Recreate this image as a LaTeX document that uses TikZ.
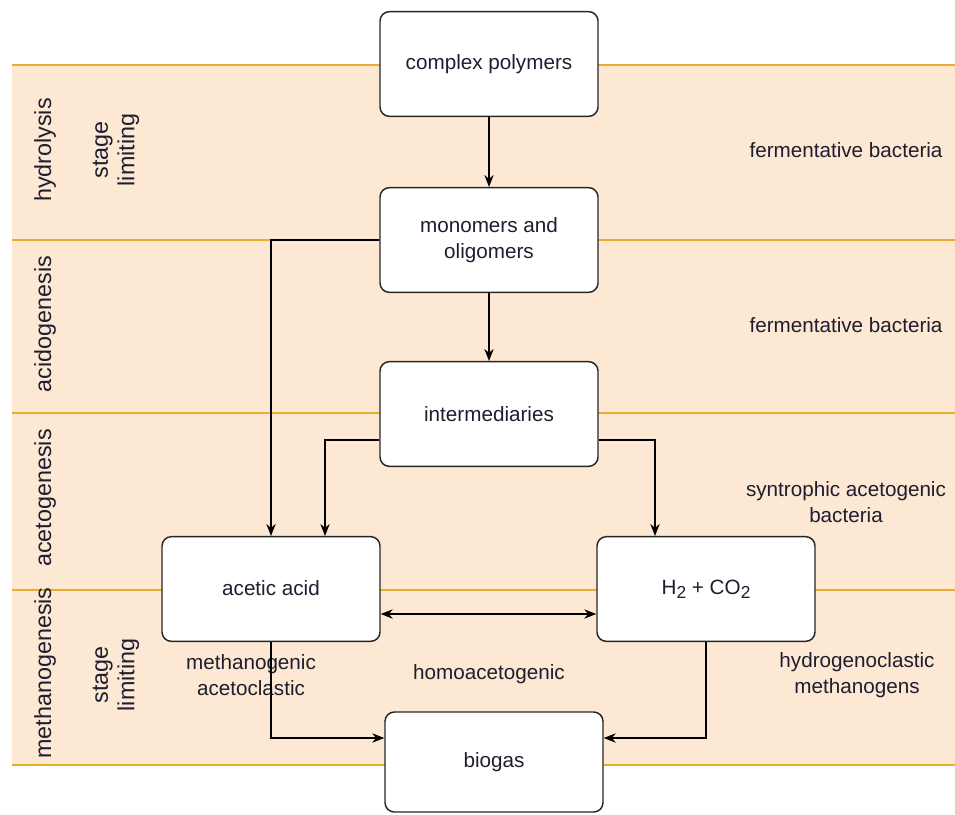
\documentclass[tikz,border=0pt]{standalone}
\usepackage{fontspec}
\setmainfont{Liberation Sans}
\usepackage{xcolor}
\usetikzlibrary{arrows.meta, positioning}
\definecolor{bandfill}{HTML}{FDE8D3}
\definecolor{bandline}{HTML}{E8AE2C}
\definecolor{textdark}{HTML}{1E1E30}
\newcommand{\lowtwo}{\raisebox{-0.35ex}{\fontsize{13}{13}\selectfont 2}}

\begin{document}
\begin{tikzpicture}[
      x=0.75pt, y=-0.75pt,
      mybox/.style={
         rectangle,
         rounded corners=7pt,
         draw=black!85,
         line width=1.1pt,
         fill=white,
         minimum width=163.5pt,
         minimum height=78.5pt,
         align=center,
         text=textdark,
         font=\fontsize{15.5}{19.5}\selectfont},
      mylabel/.style={
         align=center,
         text=textdark,
         font=\fontsize{15.5}{19.5}\selectfont},
      mystage/.style={
         rotate=90,
         align=center,
         text=textdark,
         font=\fontsize{17.5}{20}\selectfont},
      myarrow/.style={-{Stealth[length=9pt,width=7pt]}, line width=0.9pt},
      mydarrow/.style={{Stealth[length=9pt,width=7pt]}-{Stealth[length=9pt,width=7pt]}, line width=0.9pt}
      ]
      \useasboundingbox (0,0) rectangle (955,814);
      % stage bands
      \fill[bandfill] (12,65) rectangle (955,765);
      \foreach \y in {65,240,413,590,765}
        \draw[bandline, line width=1.5pt] (12,\y) -- (955,\y);

      \node[mystage] at (45,150) (hyd) {hydrolysis};
      \node[mystage] at (116,150) (limA) {stage\\limiting};
      \node[mystage] at (45,324) (acid) {acidogenesis};
      \node[mystage] at (45,498) (aceto) {acetogenesis};
      \node[mystage] at (45,673) (meth) {methanogenesis};
      \node[mystage] at (116,675) (limB) {stage\\limiting};

      \node[mylabel] at (846,150) (fermA) {fermentative bacteria};
      \node[mylabel] at (846,325) (fermB) {fermentative bacteria};
      \node[mylabel] at (846,502) (synt) {syntrophic acetogenic\\bacteria};
      \node[mylabel] at (857,675) (hydro) {hydrogenoclastic\\methanogens};
      \node[mylabel] at (251,675) (acetocl) {methanogenic\\acetoclastic};
      \node[mylabel] at (489,674) (homo) {homoacetogenic};

      \node[mybox] at (489,64) (poly) {complex polymers};
      \node[mybox] at (489,240) (mono) {monomers and\\oligomers};
      \node[mybox] at (489,414) (inter) {intermediaries};
      \node[mybox] at (271,589) (acetic) {\raisebox{2pt}{acetic acid}};
      \node[mybox] at (706,589) (hco) {H\lowtwo{} + CO\lowtwo};
      \node[mybox, minimum height=75pt] at (494,762) (biogas) {biogas};

      \draw[myarrow] (poly) -- (mono);
      \draw[myarrow] (mono) -- (inter);
      \draw[myarrow] (mono.west) -| (acetic.north);
      \draw[myarrow] ([yshift=-19.5pt]inter.west) -| ([xshift=40.5pt]acetic.north);
      \draw[myarrow] ([yshift=-19.5pt]inter.east) -| ([xshift=-38.25pt]hco.north);
      \draw[mydarrow] ([yshift=-18.75pt]acetic.east) -- ([yshift=-18.75pt]hco.west);
      \draw[myarrow] (acetic.south) |- ([yshift=18pt]biogas.west);
      \draw[myarrow] (hco.south) |- ([yshift=18pt]biogas.east);

    \end{tikzpicture}
\end{document}
